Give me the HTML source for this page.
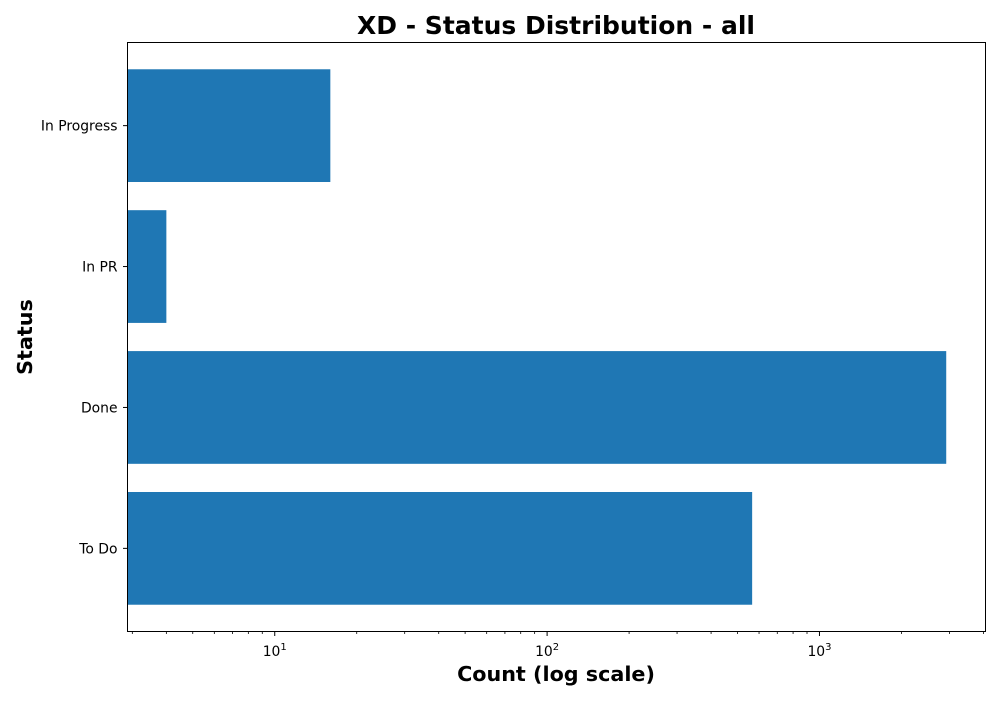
<!DOCTYPE html>
<html><head><meta charset="utf-8"><style>
body{margin:0;background:#fff;}
svg text{font-family:"DejaVu Sans","Liberation Sans",sans-serif;}
</style></head><body>
<svg id="c" width="1000" height="700" xmlns="http://www.w3.org/2000/svg">
<text x="556" y="34" text-anchor="middle" font-size="25" font-weight="bold">XD - Status Distribution - all</text>
<text x="556" y="681" text-anchor="middle" font-size="20.7" font-weight="bold">Count (log scale)</text>
<text transform="translate(32,337) rotate(-90)" text-anchor="middle" font-size="20.7" font-weight="bold">Status</text>
<g id="bars"></g><g id="ticks"></g>
<rect x="127.5" y="42.5" width="858" height="589" fill="none" stroke="#000" stroke-width="1"/>
</svg>
<script>
const categories = ["To Do", "Done", "In PR", "In Progress"];
const counts = [566, 2920, 4, 16];
const majorTicks = [10, 100, 1000];
const majorLabels = ["1", "2", "3"];
const xMin = 2.88, xMax = 4070;
const L = 127.5, R = 985.5, T = 42.5, B = 631.5;
const NS = "http://www.w3.org/2000/svg";
function xs(v){return L + (Math.log10(v)-Math.log10(xMin))/(Math.log10(xMax)-Math.log10(xMin))*(R-L);}
const yMin = -0.59, yMax = categories.length - 1 + 0.59;
function ys(i){return B - (i - yMin)/(yMax - yMin)*(B-T);}
const bars = document.getElementById('bars'), ticks = document.getElementById('ticks');
const bw = 0.8*(B-T)/(yMax-yMin);
categories.forEach((c,i)=>{
  const r = document.createElementNS(NS,'rect');
  r.setAttribute('x', L); r.setAttribute('y', ys(i)-bw/2);
  r.setAttribute('width', Math.max(0, xs(counts[i])-L)); r.setAttribute('height', bw);
  r.setAttribute('fill', '#1f77b4');
  
  
  bars.appendChild(r);
  const t = document.createElementNS(NS,'line');
  t.setAttribute('x1', L-4.5); t.setAttribute('x2', L); t.setAttribute('y1', ys(i)); t.setAttribute('y2', ys(i));
  t.setAttribute('stroke', '#000');
  
  
  ticks.appendChild(t);
  const lb = document.createElementNS(NS,'text');
  lb.setAttribute('x', L-10); lb.setAttribute('y', ys(i)+5); lb.setAttribute('text-anchor','end'); lb.setAttribute('font-size','13.9');
  lb.textContent = c;
  
  
  ticks.appendChild(lb);
});
for (let d=0; d<5; d++){
  for (let m=1; m<10; m++){
    const v = m*Math.pow(10,d);
    if (v < xMin || v > xMax) continue;
    const major = m===1;
    const t = document.createElementNS(NS,'line');
    t.setAttribute('x1', xs(v)); t.setAttribute('x2', xs(v)); t.setAttribute('y1', B); t.setAttribute('y2', B + (major?4.5:2.5));
    t.setAttribute('stroke', '#000'); t.setAttribute('stroke-width', major?1:0.8);
    
    
    ticks.appendChild(t);
  }
}
majorTicks.forEach((v,k)=>{
  const tx = document.createElementNS(NS,'text');
  tx.setAttribute('x', xs(v)); tx.setAttribute('y', 656); tx.setAttribute('text-anchor','middle'); tx.setAttribute('font-size','13.9');
  tx.innerHTML = '10<tspan dy="-6" font-size="10">' + majorLabels[k] + '</tspan>';
  
  
  ticks.appendChild(tx);
});
</script>
</body></html>
